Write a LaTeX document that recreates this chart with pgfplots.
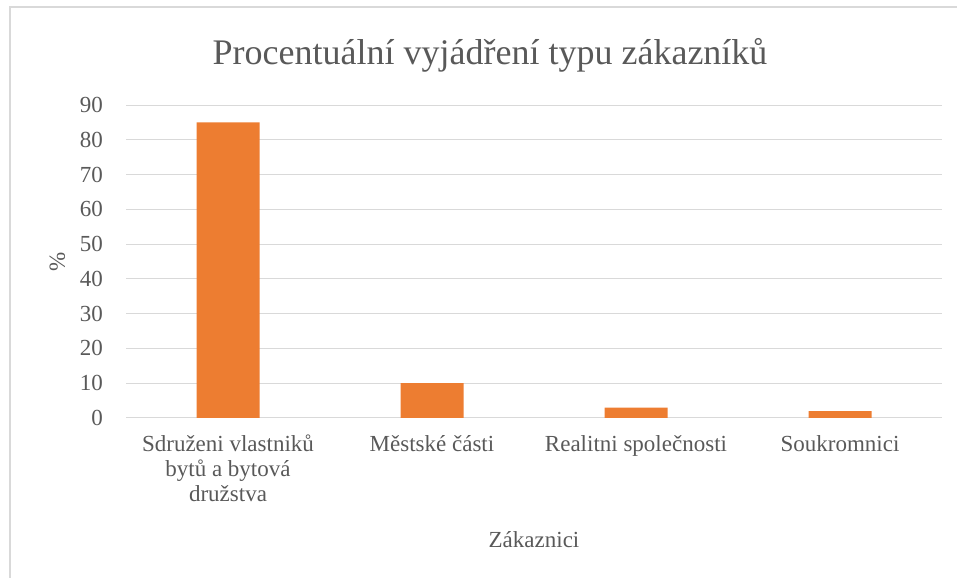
\documentclass[border=0pt]{standalone}
\usepackage{pgfplots}
\pgfplotsset{compat=1.18}
\usepackage{fontspec}
\setmainfont{Liberation Serif}
\definecolor{barorange}{HTML}{ED7D31}
\definecolor{txtgray}{HTML}{595959}
\definecolor{gridgray}{HTML}{D9D9D9}
\begin{document}
\begin{tikzpicture}
\path[use as bounding box] (0bp,0bp) rectangle (957bp,578bp);
\draw[gridgray, line width=1.2bp] (10bp,0bp) -- (10bp,571bp) -- (957bp,571bp);
\begin{axis}[
  at={(126bp,160bp)}, anchor=south west,
  scale only axis, width=816bp, height=313bp,
  xmin=-0.5, xmax=3.5, ymin=0, ymax=90,
  ytick={0,10,...,90},
  xtick={0,1,2,3},
  xticklabels={{Sdruženi vlastniků\\bytů a bytová\\družstva},{Městské části},{Realitni společnosti},{Soukromnici}},
  axis line style={draw=none},
  tick style={draw=none},
  ymajorgrids, grid style={gridgray, line width=1bp},
  /pgf/number format/assume math mode=true,
  ticklabel style={font=\fontsize{23bp}{25bp}\selectfont, text=txtgray, inner sep=0pt},
  xticklabel style={align=center, anchor=north, yshift=-17bp},
  yticklabel style={anchor=east, xshift=-23bp},
  xlabel={Zákaznici},
  xlabel style={at={(axis description cs:0.5,0)}, anchor=base, yshift=-129bp, inner sep=0pt, font=\fontsize{23bp}{25bp}\selectfont, text=txtgray},
  ylabel={\%},
  ylabel style={at={(axis description cs:0,0.5)}, anchor=center, yshift=68.5bp, inner sep=0pt, font=\fontsize{23bp}{25bp}\selectfont, text=txtgray},
]
\addplot[ybar, bar width=63bp, fill=barorange, draw=none] coordinates {(0,85) (1,10) (2,3) (3,2)};
\end{axis}
\node[anchor=base, inner sep=0pt, text=txtgray, font=\fontsize{36bp}{42bp}\selectfont] at (490bp,513.7bp) {Procentuální vyjádření typu zákazníků};
\end{tikzpicture}
\end{document}
